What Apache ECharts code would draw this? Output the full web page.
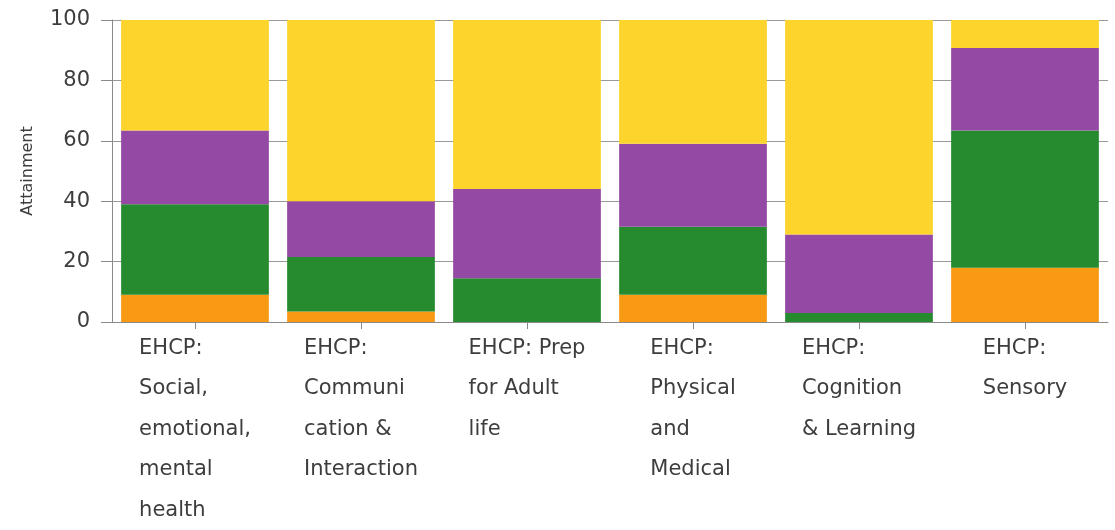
<!doctype html>
<html lang="en">
<head>
    <meta charset="UTF-8">
    <title>EHCP attainment</title>
    <script src="https://cdn.jsdelivr.net/npm/echarts@6/dist/echarts.min.js"></script>
    <style>
        html, body { margin: 0; padding: 0; background: #fff; }
    </style>
</head>
<body>
<div id="myChart" style="width: 1115px;height: 530px"></div>
<script>
    // category labels (line breaks as in the picture)
    var categories = [
        'EHCP:\nSocial,\nemotional,\nmental\nhealth',
        'EHCP:\nCommuni\ncation &\nInteraction',
        'EHCP: Prep\nfor Adult\nlife',
        'EHCP:\nPhysical\nand\nMedical',
        'EHCP:\nCognition\n& Learning',
        'EHCP:\nSensory'
    ];
    var orangeData = [9, 3.5, 0, 9, 0, 18];
    var greenData = [30, 18, 14.5, 22.5, 3, 45.4];
    var purpleData = [24.4, 18.5, 29.5, 27.5, 26, 27.3];
    var yellowData = [36.6, 60, 56, 41, 71, 9.3];

    var textColor = '#3d3d3d';
    var fontName = 'DejaVu Sans';

    var myChart = echarts.init(document.getElementById('myChart'));

    function barSeries(name, color, data) {
        return {
            name: name,
            type: 'bar',
            stack: 'total',
            barCategoryGap: '11%',
            itemStyle: {color: color},
            data: data
        };
    }

    var option = {
        backgroundColor: '#fff',
        animation: false,
        grid: {
            left: 112,
            right: 7,
            top: 20,
            bottom: 208
        },
        xAxis: {
            type: 'category',
            data: categories,
            axisLine: {lineStyle: {color: '#8a8a8a', width: 1}},
            axisTick: {show: true, alignWithLabel: true, length: 7, lineStyle: {color: '#8a8a8a'}},
            axisLabel: {
                interval: 0,
                margin: 6,
                formatter: function (value) {
                    return value.split('\n').map(function (l) {
                        return '{a|' + l + '}';
                    }).join('\n');
                },
                rich: {
                    a: {
                        align: 'left',
                        fontFamily: fontName,
                        fontSize: 21,
                        lineHeight: 40.5,
                        color: textColor
                    }
                }
            }
        },
        yAxis: {
            type: 'value',
            min: 0,
            max: 100,
            interval: 20,
            name: 'Attainment',
            nameLocation: 'middle',
            nameGap: 76,
            nameTextStyle: {fontFamily: fontName, fontSize: 16, color: textColor},
            axisLine: {show: true, lineStyle: {color: '#8a8a8a', width: 1}},
            axisTick: {show: true, length: 11, lineStyle: {color: '#8a8a8a'}},
            splitLine: {show: true, lineStyle: {color: '#9a9a9a', width: 1}},
            axisLabel: {
                margin: 22,
                fontFamily: fontName,
                fontSize: 21,
                color: textColor
            }
        },
        series: [
            barSeries('orange', '#f89a14', orangeData),
            barSeries('green', '#268b2f', greenData),
            barSeries('purple', '#944aa4', purpleData),
            barSeries('yellow', '#fcd42b', yellowData)
        ]
    };

    myChart.setOption(option);
</script>
</body>
</html>
